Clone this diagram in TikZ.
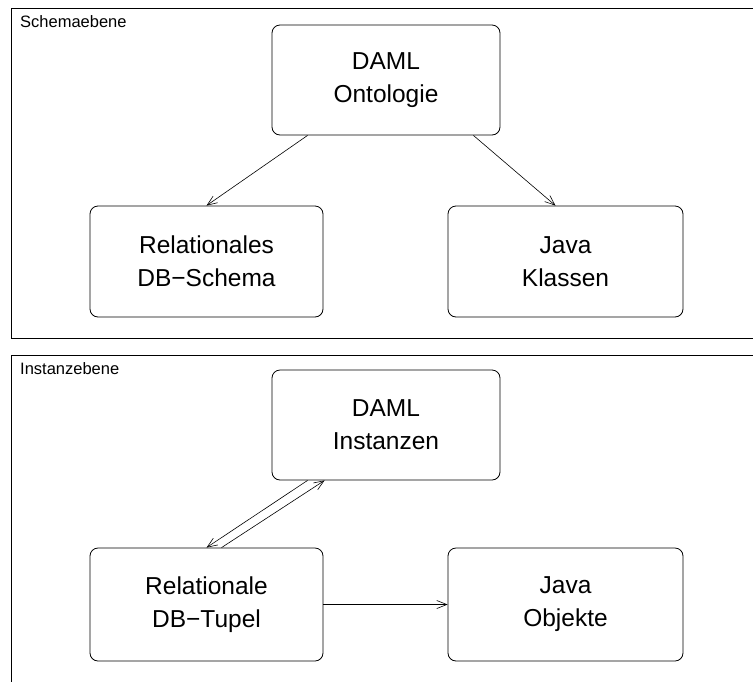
\documentclass[tikz,border=0pt]{standalone}
\usepackage{fontspec}
\setmainfont{Liberation Sans}
\usetikzlibrary{arrows.meta,calc}
\tikzset{
  box/.style={draw, rounded corners=8pt, line width=0.8pt, align=center,
    inner sep=0pt, font=\fontsize{24.5}{33}\selectfont},
  lvl/.style={anchor=base west, inner sep=0pt, font=\fontsize{16.5}{19}\selectfont},
  frame/.style={line width=0.8pt},
  link/.style={line width=0.6pt, -{Straight Barb[length=10pt,width=8pt]}}
}
\begin{document}
\begin{tikzpicture}[x=1pt,y=-1pt]
\useasboundingbox (0,0) rectangle (753,681);
% frames
\draw[frame] (770,8.5) -- (11.5,8.5) -- (11.5,338.3) -- (770,338.3);
\draw[frame] (770,355) -- (11.5,355) -- (11.5,700);
\node[lvl] (schema) at (20,27) {Schemaebene};
\node[lvl] (inst) at (20,374) {Instanzebene};
% upper level
\node[box, minimum width=228pt, minimum height=110pt] (ont) at (386,80) {DAML\\Ontologie};
\node[box, minimum width=233pt, minimum height=111pt] (rel) at (206.5,261.5) {Relationales\\DB−Schema};
\node[box, minimum width=235pt, minimum height=111pt] (kls) at (565.5,261.5) {Java\\Klassen};
\draw[link] ($(ont.south west)+(36,0)$) -- (rel.north);
\draw[link] ($(ont.south east)+(-27,0)$) -- ($(kls.north)+(-10,0)$);
% lower level
\node[box, minimum width=228pt, minimum height=110pt] (dinst) at (386,425) {DAML\\Instanzen};
\node[box, minimum width=233pt, minimum height=113pt] (tup) at (206.5,604.5) {Relationale\\DB−Tupel};
\node[box, minimum width=235pt, minimum height=113pt] (obj) at (565.5,604.5) {Java\\Objekte};
\draw[link] ($(dinst.south west)+(36,0)$) -- (tup.north);
\draw[link] ($(tup.north)+(15,0)$) -- ($(dinst.south west)+(53,0)$);
\draw[link] (tup.east) -- (obj.west);
\end{tikzpicture}
\end{document}
